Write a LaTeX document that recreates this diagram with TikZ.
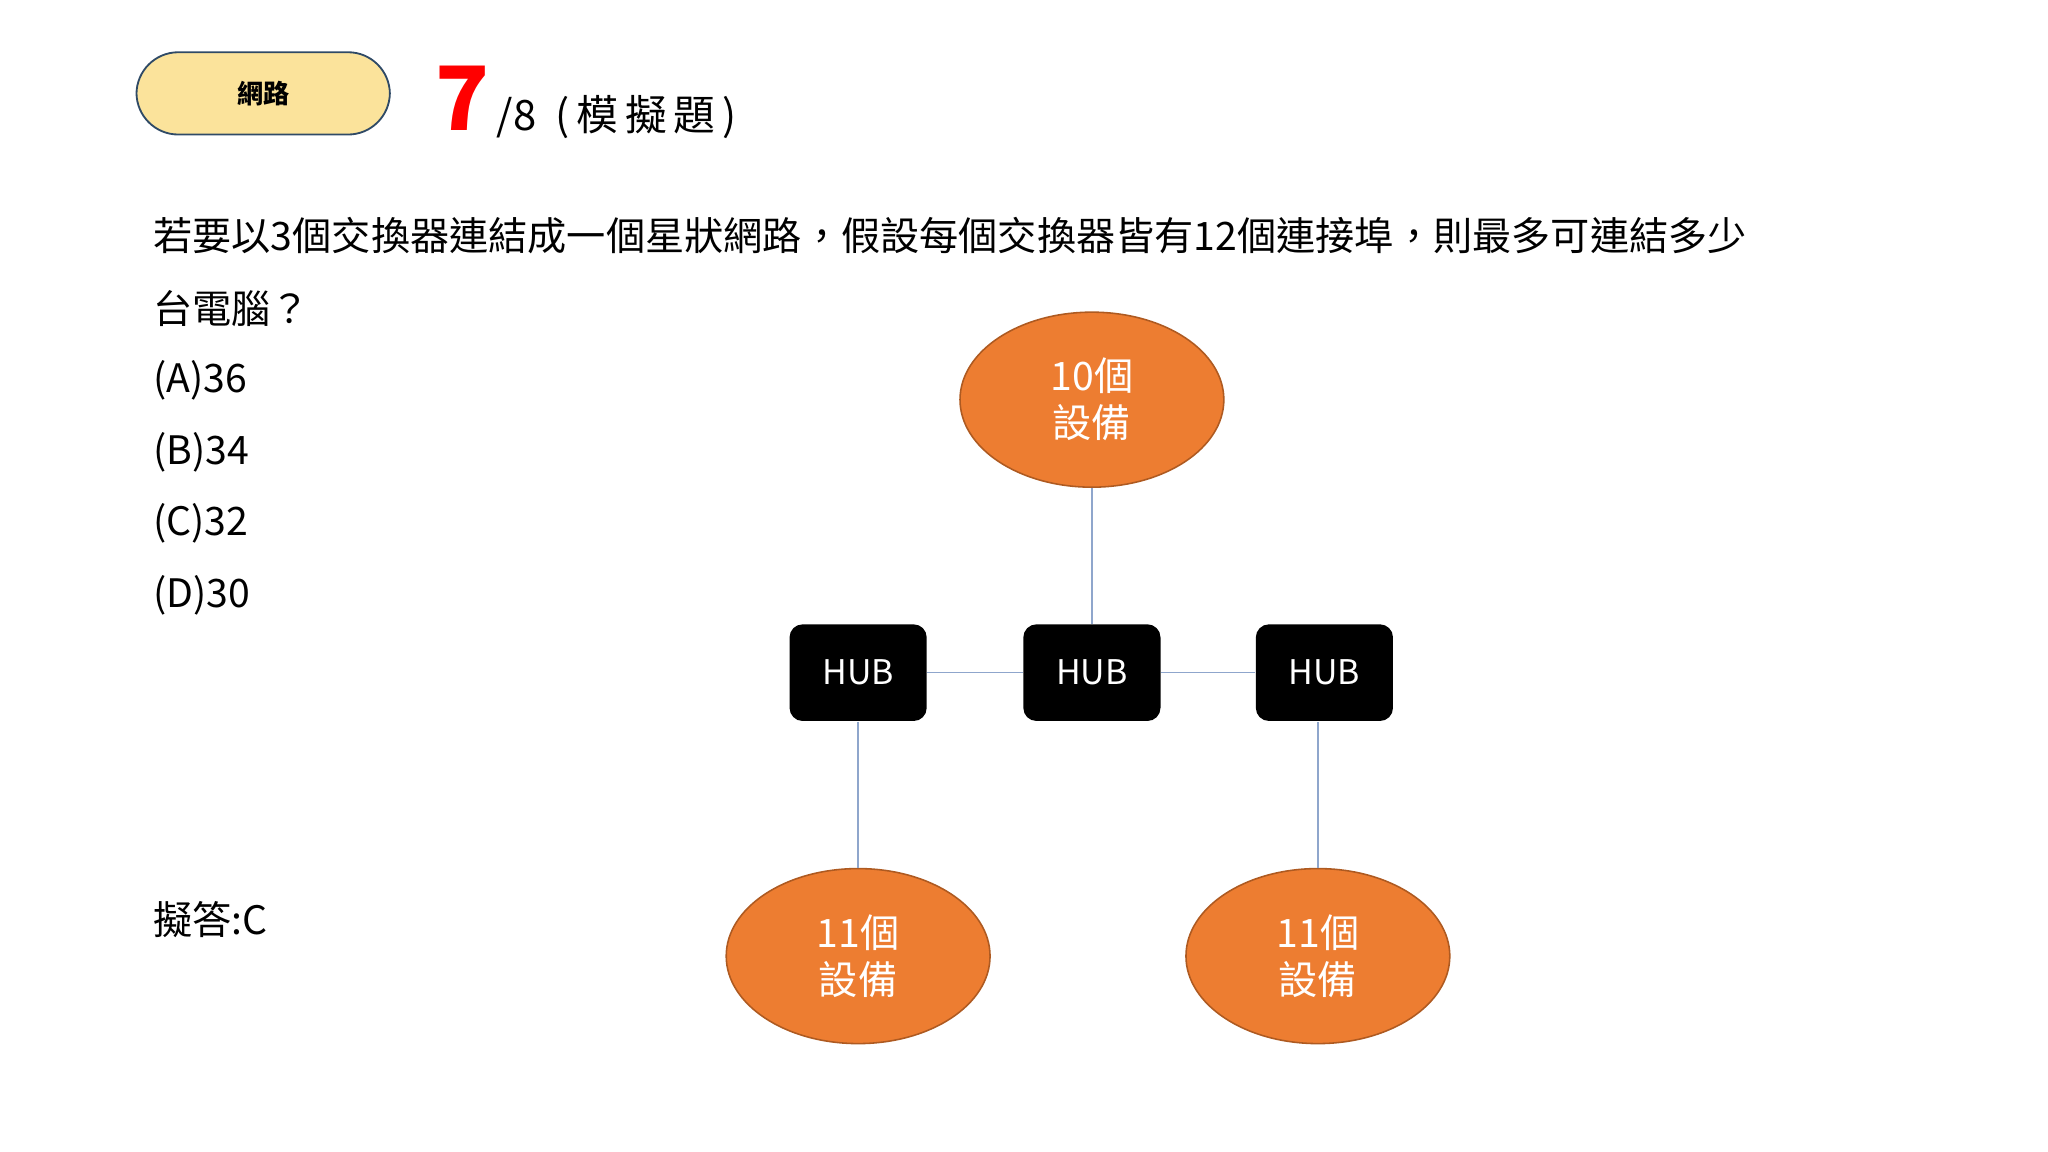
\documentclass[tikz,border=0pt]{standalone}
\usepackage{fontspec}
\setmainfont{Noto Sans CJK TC}
\definecolor{pill}{HTML}{FBE39B}
\definecolor{pillb}{HTML}{2F4A66}
\definecolor{org}{HTML}{ED7D31}
\definecolor{orgb}{HTML}{AE5A21}
\definecolor{ln}{HTML}{8FA6CC}
\tikzset{
 ell/.style={ellipse,draw=orgb,fill=org,line width=0.6pt,minimum width=101pt,minimum height=67pt,text=white,font=\fontsize{15}{18}\selectfont,align=center,inner sep=0pt},
 hub/.style={rectangle,rounded corners=5pt,fill=black,minimum width=52.5pt,minimum height=37pt,text=white,font=\fontsize{13}{15}\selectfont},
 conn/.style={draw=ln,line width=0.6pt},
 qt/.style={anchor=west,font=\fontsize{15}{18}\selectfont,inner sep=0pt}
}
\usetikzlibrary{shapes.geometric}
\begin{document}
\begin{tikzpicture}[x=0.5pt,y=-0.5pt]
\useasboundingbox (0,0) rectangle (1568,882);
\node[draw=pillb,fill=pill,rounded corners=16pt,minimum width=97pt,minimum height=31.5pt,line width=0.7pt,font=\fontsize{10}{12}\selectfont\bfseries] (pill) at (201.5,71.5) {網路};
\node[anchor=base west,inner sep=0pt,text=red,font=\fontsize{34}{36}\selectfont\bfseries] (seven) at (333,100) {7};
\node[anchor=base west,inner sep=0pt,font=\fontsize{16}{18}\selectfont] (of) at (380,100) {/8\ \ (\,模\,擬\,題\,)};
\node[qt] (q1) at (117,180) {若要以3個交換器連結成一個星狀網路，假設每個交換器皆有12個連接埠，則最多可連結多少};
\node[qt] (q2) at (117,236) {台電腦？};
\node[qt] (a) at (117,291) {(A)36};
\node[qt] (b) at (117,346) {(B)34};
\node[qt] (c) at (117,401) {(C)32};
\node[qt] (d) at (117,456) {(D)30};
\node[qt] (ans) at (117,704) {擬答:C};
\node[ell] (e1) at (836,306) {10個\\設備};
\node[ell] (e2) at (657,732) {11個\\設備};
\node[ell] (e3) at (1009,732) {11個\\設備};
\node[hub] (h1) at (657,515) {HUB};
\node[hub] (h2) at (836,515) {HUB};
\node[hub] (h3) at (1014,515) {HUB};
\draw[conn] (e1) -- (h2);
\draw[conn] (h1) -- (h2);
\draw[conn] (h2) -- (h3);
\draw[conn] (h1) -- (e2);
\draw[conn] (e3.north) -- (e3.north |- h3.south);
\end{tikzpicture}
\end{document}
